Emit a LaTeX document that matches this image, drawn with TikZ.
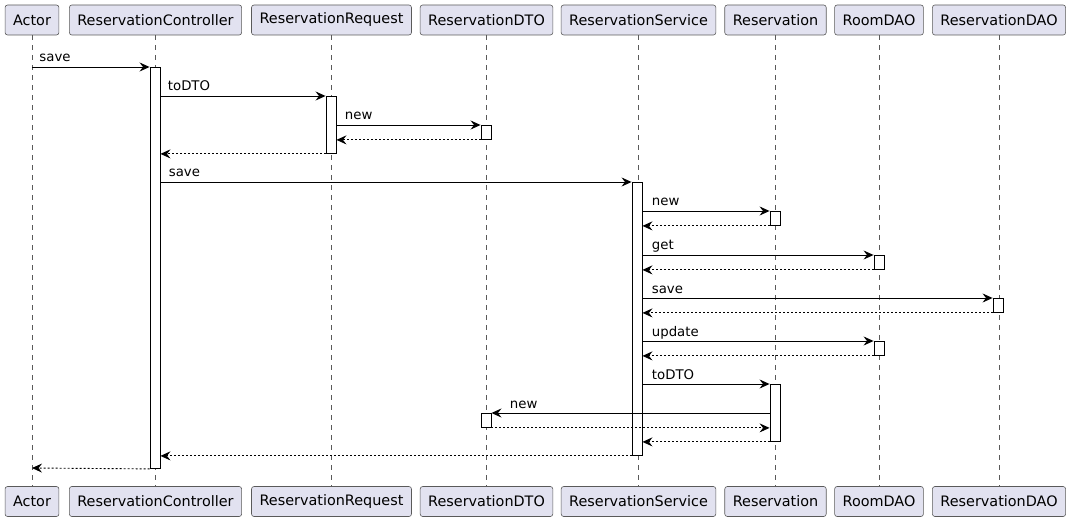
\documentclass[tikz,border=0pt]{standalone}
\usepackage{fontspec}
\setmainfont{DejaVu Sans}
\usetikzlibrary{arrows.meta}
\definecolor{partfill}{HTML}{E2E2F0}
\definecolor{partline}{HTML}{5A5A5A}

\begin{document}
\begin{tikzpicture}[x=1pt, y=-1pt,
  part/.style={draw=partline, fill=partfill, rounded corners=2.5pt, minimum height=30pt,
    inner xsep=8pt, line width=0.6pt, font=\fontsize{14.4}{16}\selectfont},
  life/.style={draw=partline, line width=0.6pt, dash pattern=on 5pt off 5pt},
  act/.style={draw, fill=white, line width=0.9pt, minimum width=10pt, inner sep=0pt, anchor=north},
  msg/.style={line width=0.9pt, -{Stealth[length=10pt, width=9pt, inset=3.5pt]}},
  ret/.style={msg, dash pattern=on 2pt off 2pt},
  lbl/.style={font=\fontsize{13.3}{15}\selectfont, inner sep=0pt, anchor=base west}]
\useasboundingbox (0,0) rectangle (1070,521);

% participants, top and bottom, with their lifelines
\foreach \n/\x/\t in {actor/32/Actor, ctl/155.5/ReservationController, req/331.5/ReservationRequest,
    dto/486.5/ReservationDTO, srv/638.5/ReservationService, res/775.5/Reservation,
    room/879/RoomDAO, rdao/999/ReservationDAO} {
  \node [part] (\n) at (\x,20) {\t};
  \node [part] (\n-b) at (\x,501.5) {\t};
  \draw [life] (\n) -- (\n-b);
}

% activations
\node [act, minimum height=401pt] (aCtl) at (155,67) {};
\node [act, minimum height=57pt] (aReq) at (331,96) {};
\node [act, minimum height=14pt] (aDto1) at (486,125) {};
\node [act, minimum height=273pt] (aSrv) at (637,182) {};
\node [act, minimum height=14pt] (aRes1) at (775,211) {};
\node [act, minimum height=14pt] (aRoom1) at (879,255) {};
\node [act, minimum height=14pt] (aRdao) at (998,298) {};
\node [act, minimum height=14pt] (aRoom2) at (879,341) {};
\node [act, minimum height=57pt] (aRes2) at (775,384) {};
\node [act, minimum height=14pt] (aDto2) at (486,413) {};

\coordinate (actorIn) at (32,67);
\coordinate (actorOut) at (32,468);

% messages
\draw [msg] (actorIn) -- (aCtl.north west) node [lbl, pos=0, xshift=7pt, yshift=5pt] {save};
\draw [msg] (aCtl.east |- aReq.north) -- (aReq.north west) node [lbl, pos=0, xshift=7pt, yshift=5pt] {toDTO};
\draw [msg] (aReq.east |- aDto1.north) -- (aDto1.north west) node [lbl, pos=0, xshift=8pt, yshift=5pt] {new};
\draw [ret] (aDto1.south west) -- (aReq.east |- aDto1.south);
\draw [ret] (aReq.south west) -- (aCtl.east |- aReq.south);
\draw [msg] (aCtl.east |- aSrv.north) -- (aSrv.north west) node [lbl, pos=0, xshift=8pt, yshift=5pt] {save};
\draw [msg] (aSrv.east |- aRes1.north) -- (aRes1.north west) node [lbl, pos=0, xshift=9pt, yshift=5pt] {new};
\draw [ret] (aRes1.south west) -- (aSrv.east |- aRes1.south);
\draw [msg] (aSrv.east |- aRoom1.north) -- (aRoom1.north west) node [lbl, pos=0, xshift=9pt, yshift=5pt] {get};
\draw [ret] (aRoom1.south west) -- (aSrv.east |- aRoom1.south);
\draw [msg] (aSrv.east |- aRdao.north) -- (aRdao.north west) node [lbl, pos=0, xshift=9pt, yshift=5pt] {save};
\draw [ret] (aRdao.south west) -- (aSrv.east |- aRdao.south);
\draw [msg] (aSrv.east |- aRoom2.north) -- (aRoom2.north west) node [lbl, pos=0, xshift=9pt, yshift=5pt] {update};
\draw [ret] (aRoom2.south west) -- (aSrv.east |- aRoom2.south);
\draw [msg] (aSrv.east |- aRes2.north) -- (aRes2.north west) node [lbl, pos=0, xshift=9pt, yshift=5pt] {toDTO};
\draw [msg] (aRes2.west |- aDto2.north) -- (aDto2.north east) node [lbl, pos=1, xshift=18pt, yshift=5pt] {new};
\draw [ret] (aDto2.south east) -- (aRes2.west |- aDto2.south);
\draw [ret] (aRes2.south west) -- (aSrv.east |- aRes2.south);
\draw [ret] (aSrv.south west) -- (aCtl.east |- aSrv.south);
\draw [ret] (aCtl.south west) -- (actorOut);
\end{tikzpicture}
\end{document}
